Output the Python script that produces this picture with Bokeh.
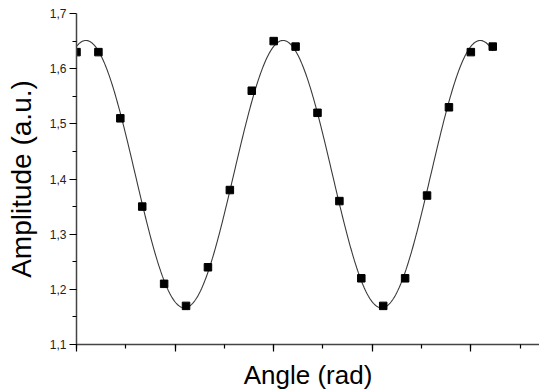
import numpy as np
from bokeh.plotting import figure
from bokeh.models import FixedTicker, CustomJSTickFormatter, Range1d
from bokeh.embed import file_html
from bokeh.resources import INLINE

# Data: angle in degrees (step 20), amplitude in a.u.
angle_deg = [0, 20, 40, 60, 80, 100, 120, 140, 160, 180,
             200, 220, 240, 260, 280, 300, 320, 340, 360, 380]
amplitude = [1.63, 1.63, 1.51, 1.35, 1.21, 1.17, 1.24, 1.38, 1.56, 1.65,
             1.64, 1.52, 1.36, 1.22, 1.17, 1.22, 1.37, 1.53, 1.63, 1.64]
y_ticks = [1.1, 1.2, 1.3, 1.4, 1.5, 1.6, 1.7]

angle = np.radians(angle_deg)
amp = np.array(amplitude)

# Least-squares fit A + B cos(2θ) + C sin(2θ) to the measured points
M = np.column_stack([np.ones_like(angle), np.cos(2 * angle), np.sin(2 * angle)])
coef, *_ = np.linalg.lstsq(M, amp, rcond=None)
theta_fit = np.linspace(angle.min(), angle.max(), 500)
amp_fit = coef[0] + coef[1] * np.cos(2 * theta_fit) + coef[2] * np.sin(2 * theta_fit)

p = figure(width=539, height=392, output_backend="svg", toolbar_location=None,
           x_range=Range1d(0, 7.377), y_range=Range1d(1.1, 1.7),
           min_border_left=76, min_border_right=0, min_border_top=13, min_border_bottom=48)
p.outline_line_color = None
p.xgrid.grid_line_color = None
p.ygrid.grid_line_color = None
p.background_fill_color = "white"
p.border_fill_color = "white"

p.line(theta_fit, amp_fit, line_color="#3a3a3a", line_width=1.1)
p.scatter(angle, amp, marker="square", size=7.5, fill_color="black", line_color="black")

font = "Liberation Sans"

# X axis
xa = p.xaxis[0]
xa.ticker = FixedTicker(ticks=[k * np.pi / 2 for k in range(5)],
                        minor_ticks=[k * np.pi / 4 for k in range(10)])
xa.formatter = CustomJSTickFormatter(code="return ''")
xa.axis_label = "Angle (rad)"
xa.axis_label_text_font = font
xa.axis_label_text_font_size = "26px"
xa.axis_label_text_font_style = "normal"
xa.axis_label_text_color = "black"
xa.axis_label_standoff = 8
xa.major_label_text_font_size = "1px"
xa.major_label_standoff = 0

# Y axis
ya = p.yaxis[0]
ya.ticker = FixedTicker(ticks=y_ticks,
                        minor_ticks=[1.1 + 0.05 * k for k in range(13)])
ya.formatter = CustomJSTickFormatter(code="return tick.toFixed(1).replace('.', ',')")
ya.axis_label = "Amplitude (a.u.)"
ya.axis_label_text_font = font
ya.axis_label_text_font_size = "28px"
ya.axis_label_text_font_style = "normal"
ya.axis_label_text_color = "black"
ya.axis_label_standoff = 10
ya.major_label_text_font = font
ya.major_label_text_font_size = "12px"
ya.major_label_text_color = "#222222"
ya.major_label_standoff = 3

for ax in (xa, ya):
    ax.axis_line_color = "#444444"
    ax.axis_line_width = 1.5
    ax.major_tick_line_color = "black"
    ax.minor_tick_line_color = "black"
    ax.major_tick_line_width = 1.2
    ax.minor_tick_line_width = 1.2
    ax.major_tick_in = 0
    ax.major_tick_out = 7
    ax.minor_tick_in = 0
    ax.minor_tick_out = 4

open("out.html", "w").write(file_html(p, INLINE))
